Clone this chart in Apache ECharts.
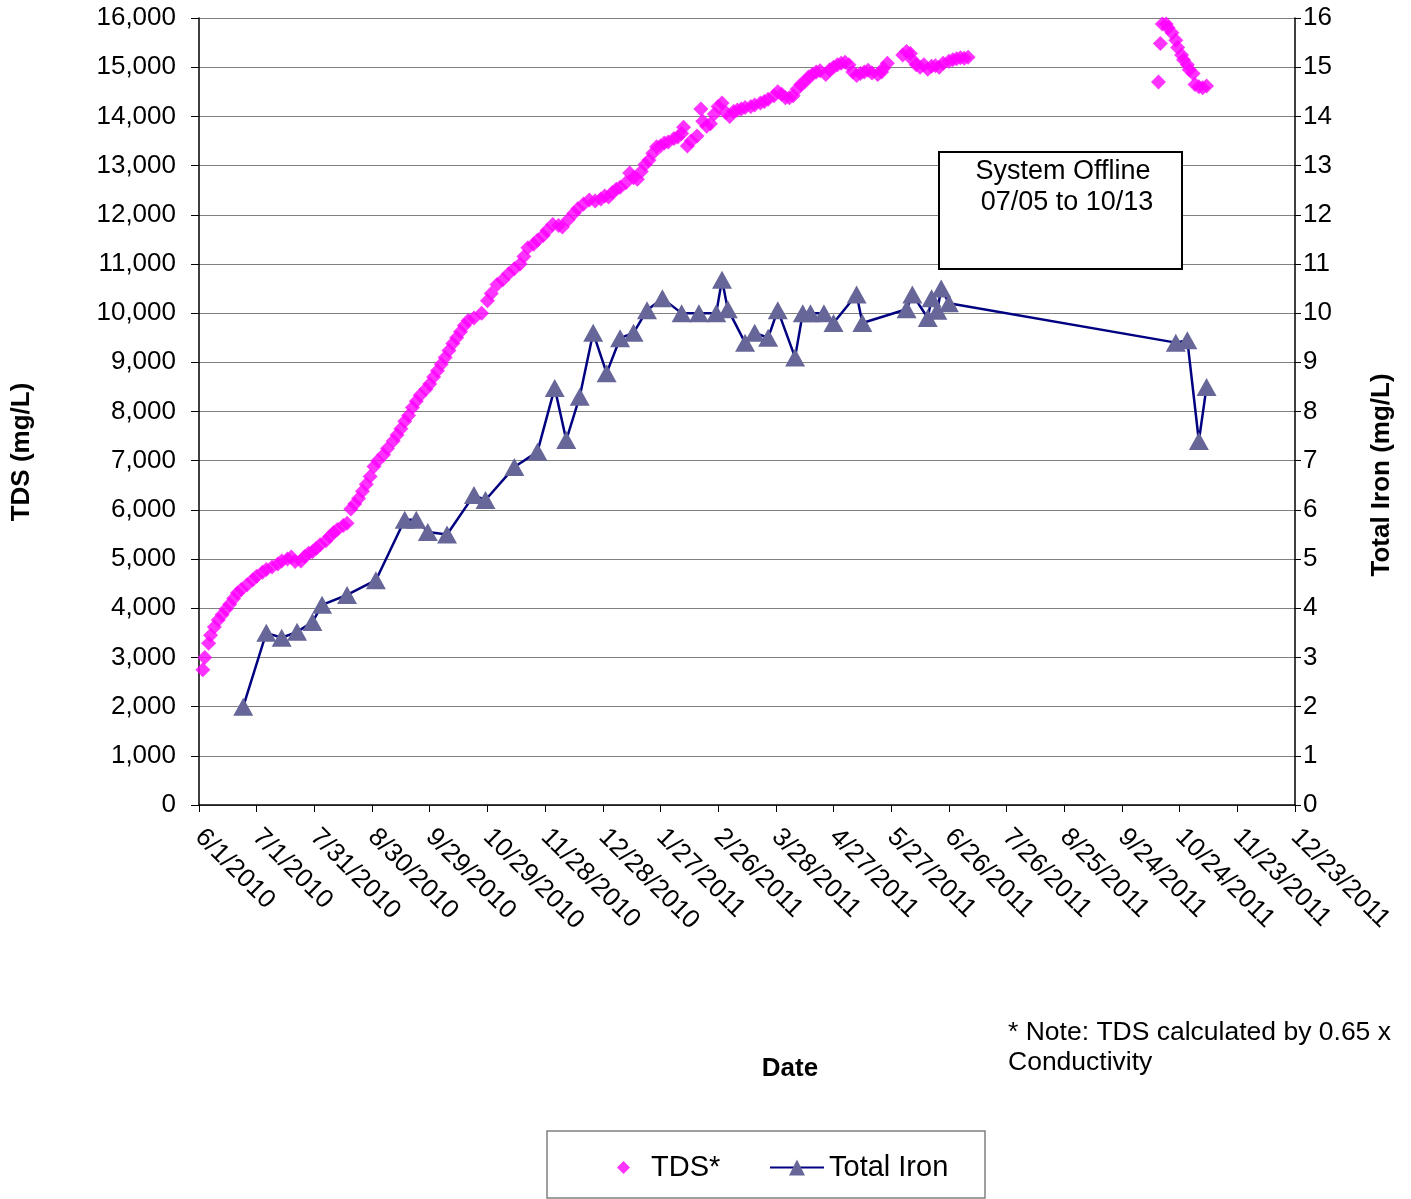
<!DOCTYPE html>
<html>
<head>
<meta charset="utf-8">
<script src="https://cdn.jsdelivr.net/npm/echarts@6/dist/echarts.min.js"></script>
<style>
html,body{margin:0;padding:0;background:#fff;}
#chart{width:1411px;height:1199px;}
</style>
</head>
<body>
<div id="chart"></div>
<script>
// X axis: days since 6/1/2010, ticks every 30 days
const xTickLabels = ['6/1/2010','7/1/2010','7/31/2010','8/30/2010','9/29/2010','10/29/2010','11/28/2010','12/28/2010','1/27/2011','2/26/2011','3/28/2011','4/27/2011','5/27/2011','6/26/2011','7/26/2011','8/25/2011','9/24/2011','10/24/2011','11/23/2011','12/23/2011'];

// TDS* (mg/L): day offset and value
const tdsDays = [2,3,5,6,8,10,12,14,16,18,20,22,25,28,30,33,35,38,41,43,46,48,50,53,55,57,59,61,63,66,68,70,72,75,77,
79,81,83,85,87,89,91,93,96,98,101,103,105,107,109,111,113,115,118,120,122,124,126,128,130,132,134,136,138,140,143,147,
150,152,155,158,161,164,167,169,171,174,176,179,181,184,187,189,192,195,197,200,203,206,209,211,213,215,217,219,222,224,
226,228,230,232,234,236,238,240,242,244,247,249,251,252,254,256,259,261,262,264,266,268,270,272,274,276,278,280,282,284,
287,289,292,294,296,299,301,303,305,307,309,311,313,315,317,319,321,323,326,328,330,332,334,336,338,340,342,344,346,348,
350,353,355,356,358,366,368,370,371,373,375,377,379,381,383,385,387,390,392,394,396,398,400,
499,500,501,503,504,506,508,509,511,512,514,515,517,518,520,522,524];
const tdsValues = [2750,3000,3290,3450,3620,3760,3870,3980,4080,4200,4310,4380,4480,4580,4650,4730,4790,4840,4900,4960,5000,5040,4950,4960,5050,5120,5150,5220,5290,5370,5460,5540,5600,5680,5730,
6020,6120,6230,6380,6520,6680,6880,7000,7120,7250,7400,7520,7650,7800,7920,8080,8210,8330,8450,8560,8700,8830,8960,9100,9240,9380,9500,9620,9750,9850,9900,10000,
10250,10400,10580,10680,10800,10900,11000,11150,11330,11400,11480,11580,11680,11800,11780,11750,11900,12030,12120,12220,12300,12280,12320,12380,12360,12450,12520,12560,12650,12850,
12750,12720,12880,13020,13110,13250,13380,13400,13460,13480,13550,13580,13650,13780,13400,13500,13600,14150,13900,13800,13850,14050,14200,14270,14080,14000,14100,14130,14150,14180,
14200,14230,14270,14300,14350,14420,14500,14450,14380,14380,14420,14550,14650,14700,14800,14850,14900,14930,14850,14950,15000,15050,15080,15100,15050,14900,14830,14870,14900,14940,
14880,14850,14900,14980,15080,15250,15320,15280,15150,15050,15000,15050,14960,15020,15030,15000,15080,15120,15150,15170,15190,15180,15200,
14700,15480,15880,15880,15800,15700,15550,15400,15250,15150,15050,14950,14870,14650,14600,14580,14620];

// Total Iron (mg/L): day offset and value
const ironDays = [23,35,43,51,59,64,77,92,107,113,119,129,143,149,164,176,185,191,198,205,212,219,226,233,241,251,260,269,272,275,284,289,296,301,310,314,318,325,330,342,345,368,371,379,381,384,386,390,508,514,520,524];
const ironValues = [2.0,3.5,3.4,3.52,3.72,4.07,4.27,4.57,5.8,5.8,5.55,5.5,6.3,6.2,6.87,7.18,8.48,7.42,8.3,9.6,8.78,9.49,9.6,10.06,10.3,10.0,10.0,10.0,10.68,10.08,9.4,9.6,9.5,10.06,9.1,10.0,10.0,10.0,9.8,10.38,9.8,10.08,10.38,9.9,10.3,10.05,10.5,10.2,9.4,9.45,7.4,8.5];

const tdsData = tdsDays.map((d,i)=>[d,tdsValues[i]]);
const ironData = ironDays.map((d,i)=>[d,ironValues[i]]);

const FONT = 'Liberation Sans, Arial, sans-serif';
const chart = echarts.init(document.getElementById('chart'));
chart.setOption({
  animation:false,
  backgroundColor:'#fff',
  textStyle:{fontFamily:FONT,color:'#000'},
  grid:{left:199,right:116,top:18,bottom:394,containLabel:false},
  xAxis:{
    type:'value',min:0,max:570,interval:30,
    axisLine:{show:true,onZero:false,lineStyle:{color:'#000',width:1.5}},
    axisTick:{show:true,length:7,lineStyle:{color:'#000'}},
    splitLine:{show:false},
    axisLabel:{rotate:-45,margin:28,fontSize:26,color:'#000',fontFamily:FONT,
      formatter:v=>xTickLabels[Math.round(v/30)]||''}
  },
  yAxis:[{
    type:'value',min:0,max:16000,interval:1000,position:'left',
    axisLine:{show:true,lineStyle:{color:'#000',width:1.5}},
    axisTick:{show:true,length:8,lineStyle:{color:'#000'}},
    splitLine:{show:true,lineStyle:{color:'#808080',width:1.2}},
    axisLabel:{margin:23,fontSize:26,color:'#000',fontFamily:FONT,
      formatter:v=>v.toLocaleString('en-US')}
  },{
    type:'value',min:0,max:16,interval:1,position:'right',
    axisLine:{show:true,lineStyle:{color:'#000',width:1.5}},
    axisTick:{show:true,length:6,lineStyle:{color:'#000'}},
    splitLine:{show:false},
    axisLabel:{margin:8,fontSize:26,color:'#000',fontFamily:FONT}
  }],
  legend:[{
    data:['TDS*'],left:612,top:1148,itemWidth:13,itemHeight:13,
    textStyle:{fontSize:29,color:'#000',fontFamily:FONT,padding:[0,0,0,16]}
  },{
    data:['Total Iron'],left:764,top:1148,itemWidth:54,itemHeight:20,
    textStyle:{fontSize:29,color:'#000',fontFamily:FONT,padding:[0,0,0,0]}
  }],
  series:[{
    name:'TDS*',type:'scatter',yAxisIndex:0,data:tdsData,
    symbol:'diamond',symbolSize:15,
    itemStyle:{color:'#FF00FF'},z:3
  },{
    name:'Total Iron',type:'line',yAxisIndex:1,data:ironData,
    symbol:'triangle',symbolSize:[20,18],showAllSymbol:true,
    lineStyle:{color:'#000080',width:2.5},
    itemStyle:{color:'#666699',borderWidth:0},z:4
  }],
  graphic:[
    {type:'rect',shape:{x:939,y:152,width:243,height:117},style:{fill:'#fff',stroke:'#000',lineWidth:2},z:10},
    {type:'text',x:1063,y:172,style:{text:'System Offline',font:'27px '+FONT,fill:'#000',textAlign:'center',textVerticalAlign:'middle'},z:11},
    {type:'text',x:1067,y:203,style:{text:'07/05 to 10/13',font:'27px '+FONT,fill:'#000',textAlign:'center',textVerticalAlign:'middle'},z:11},
    {type:'text',x:22,y:452,rotation:Math.PI/2,style:{text:'TDS (mg/L)',font:'bold 26px '+FONT,fill:'#000',textAlign:'center',textVerticalAlign:'middle'}},
    {type:'text',x:1382,y:475,rotation:Math.PI/2,style:{text:'Total Iron (mg/L)',font:'bold 26px '+FONT,fill:'#000',textAlign:'center',textVerticalAlign:'middle'}},
    {type:'text',x:790,y:1069,style:{text:'Date',font:'bold 26px '+FONT,fill:'#000',textAlign:'center',textVerticalAlign:'middle'}},
    {type:'text',x:1008,y:1033,style:{text:'* Note: TDS calculated by 0.65 x',font:'26.5px '+FONT,fill:'#000',textAlign:'left',textVerticalAlign:'middle'}},
    {type:'text',x:1008,y:1063,style:{text:'Conductivity',font:'26.5px '+FONT,fill:'#000',textAlign:'left',textVerticalAlign:'middle'}},
    {type:'rect',shape:{x:547,y:1131,width:438,height:67},style:{fill:'none',stroke:'#808080',lineWidth:1.5},z:1}
  ]
});
</script>
</body>
</html>
